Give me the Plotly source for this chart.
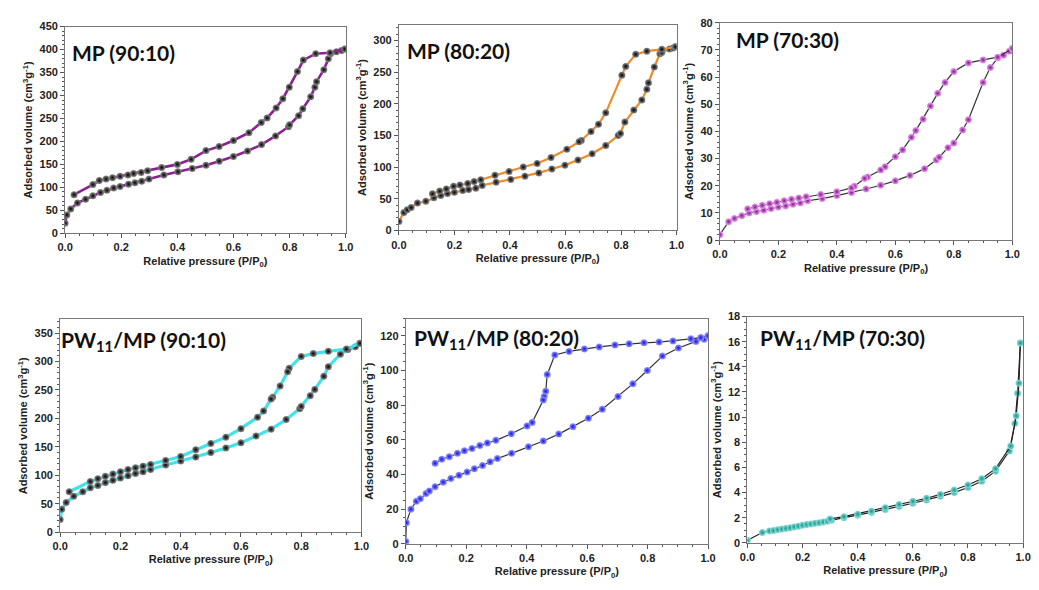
import plotly.graph_objects as go

# ---------------- data ----------------
# MP (90:10)
mp9010_ads_x = [0.0, 0.006, 0.02, 0.044, 0.073, 0.099, 0.126, 0.149, 0.173, 0.196, 0.226, 0.249, 0.273, 0.299,
                0.352, 0.402, 0.453, 0.502, 0.549, 0.6, 0.65, 0.7, 0.75, 0.796, 0.8, 0.832, 0.847, 0.875,
                0.89, 0.896, 0.922, 0.938, 0.946, 0.967, 0.985, 0.997]
mp9010_ads_y = [22, 40, 53, 66, 74, 81.5, 88.6, 93.5, 98.5, 102, 107, 110, 113, 118,
                127, 134, 141, 148, 157, 167, 179, 193, 212, 232, 236, 256, 271, 297,
                318, 330, 356, 380, 391, 395, 398, 401]
mp9010_des_x = [0.997, 0.944, 0.893, 0.849, 0.828, 0.799, 0.776, 0.752, 0.72, 0.699, 0.655, 0.6, 0.549,
                0.502, 0.449, 0.4, 0.344, 0.294, 0.271, 0.244, 0.224, 0.196, 0.169, 0.146, 0.122, 0.099, 0.032]
mp9010_des_y = [401, 393, 391, 377, 352, 318, 293, 273, 251, 241, 219, 202, 189,
                180, 161, 150, 143, 136, 132.5, 130, 127, 124, 121, 118, 115, 106, 84]

# MP (80:20)
mp8020_ads_x = [0.0, 0.018, 0.03, 0.044, 0.067, 0.097, 0.126, 0.151, 0.175, 0.2, 0.23, 0.251, 0.277, 0.3,
                0.35, 0.403, 0.454, 0.504, 0.551, 0.598, 0.645, 0.696, 0.745, 0.79, 0.798, 0.814, 0.846,
                0.875, 0.893, 0.899, 0.92, 0.94, 0.947, 0.975, 0.988, 0.996]
mp8020_ads_y = [14, 28, 32.5, 36, 43, 46, 51.5, 55, 58, 60, 63, 64.4, 66.5, 71,
                76, 80.4, 85.6, 90.7, 97, 103, 111, 121, 134, 150, 153, 171, 190,
                206, 222.7, 233, 258, 279, 281, 286.6, 288, 290]
mp8020_des_x = [0.996, 0.947, 0.893, 0.853, 0.817, 0.803, 0.745, 0.719, 0.692, 0.657, 0.649, 0.605, 0.548,
                0.498, 0.448, 0.397, 0.346, 0.295, 0.271, 0.248, 0.22, 0.197, 0.171, 0.147, 0.121]
mp8020_des_y = [290, 286, 283, 278, 259, 245, 185.6, 167.5, 156, 142, 140, 128, 115,
                105.7, 100, 93, 87, 80, 77, 74, 71.6, 69.6, 65.5, 62, 57.7]

# MP (70:30)
mp7030_ads_x = [0.0, 0.03, 0.05, 0.075, 0.1, 0.125, 0.15, 0.175, 0.2, 0.225, 0.25, 0.275, 0.3, 0.35, 0.4,
                0.45, 0.5, 0.55, 0.6, 0.65, 0.7, 0.74, 0.75, 0.78, 0.8, 0.83, 0.85, 0.9, 0.925, 0.95,
                0.97, 0.99, 1.0]
mp7030_ads_y = [2, 6.8, 8, 9, 10, 10.5, 11, 11.6, 12.2, 12.6, 13.2, 13.7, 14.5, 15.3, 16.4,
                17.5, 18.8, 20.2, 21.8, 23.8, 26.3, 29.5, 30.5, 34, 35.7, 40.5, 44.3, 58, 63.5, 67,
                68, 69.5, 70.5]
mp7030_des_x = [1.0, 0.95, 0.9, 0.85, 0.8, 0.77, 0.745, 0.72, 0.695, 0.67, 0.655, 0.625, 0.6, 0.565, 0.55,
                0.505, 0.495, 0.46, 0.45, 0.4, 0.345, 0.295, 0.27, 0.245, 0.22, 0.195, 0.17, 0.145,
                0.12, 0.095]
mp7030_des_y = [70.5, 67.3, 66.3, 65.2, 62, 58, 54, 49.3, 44.5, 40.3, 37.8, 33.2, 30.7, 27, 25.8,
                23.2, 22.7, 19.8, 19.2, 17.8, 16.8, 16, 15.5, 15, 14.5, 13.9, 13.4, 12.8,
                12.2, 11.5]

# PW11/MP (90:10)
pw9010_ads_x = [0.0, 0.005, 0.02, 0.045, 0.075, 0.1, 0.125, 0.15, 0.175, 0.2, 0.225, 0.25, 0.275, 0.3,
                0.35, 0.4, 0.45, 0.5, 0.55, 0.6, 0.65, 0.7, 0.75, 0.795, 0.8, 0.83, 0.845, 0.875,
                0.89, 0.93, 0.955, 0.98, 0.995]
pw9010_ads_y = [22, 40, 52, 63, 71, 78, 82, 87, 91, 95, 99, 103, 106, 110,
                118, 125, 132, 140, 148, 157, 169, 181, 198, 217, 221, 240, 251, 274,
                291, 313, 321, 326, 332]
pw9010_des_x = [0.995, 0.95, 0.89, 0.84, 0.8, 0.76, 0.755, 0.73, 0.705, 0.7, 0.675, 0.655, 0.6, 0.55,
                0.5, 0.45, 0.4, 0.35, 0.3, 0.275, 0.25, 0.225, 0.2, 0.175, 0.15, 0.125, 0.1, 0.03]
pw9010_des_y = [332, 322, 318, 314, 309, 288, 282, 257, 237, 234, 213, 202, 182, 167,
                156, 145, 133, 126, 119, 116, 113, 110, 106, 102, 98, 94, 89, 71]

# PW11/MP (80:20)
pw8020_ads_x = [0.0, 0.002, 0.017, 0.035, 0.048, 0.067, 0.078, 0.097, 0.124, 0.149, 0.176, 0.203, 0.227,
                0.254, 0.279, 0.303, 0.35, 0.406, 0.455, 0.506, 0.553, 0.604, 0.65, 0.702, 0.751,
                0.799, 0.849, 0.902, 0.96, 0.987, 1.0]
pw8020_ads_y = [1.3, 12.2, 20, 24.5, 26, 29, 30.5, 33, 35.6, 37.7, 39.5, 41.4, 43.3,
                45.2, 47.3, 49.2, 52.2, 56, 59.3, 63.3, 67.6, 72.5, 77.6, 85, 92.3,
                100, 108.3, 113, 116.8, 118, 120]
pw8020_des_x = [1.0, 0.976, 0.943, 0.884, 0.838, 0.788, 0.739, 0.692, 0.64, 0.591, 0.54, 0.493, 0.468,
                0.463, 0.458, 0.455, 0.418, 0.401, 0.349, 0.298, 0.27, 0.245, 0.219, 0.194, 0.171,
                0.144, 0.119, 0.097]
pw8020_des_y = [120, 119, 118.3, 117, 116.4, 116, 115.4, 114.7, 113.6, 112.4, 111, 109, 97.7,
                88, 85, 83, 70, 68, 63.5, 59.7, 58.2, 56.7, 55, 53.7, 52.2,
                50.3, 48.8, 46.5]

# PW11/MP (70:30)
pw7030_ads_x = [0.0, 0.054, 0.08, 0.095, 0.11, 0.125, 0.14, 0.155, 0.17, 0.185, 0.2, 0.215, 0.23, 0.245,
                0.26, 0.275, 0.29, 0.305, 0.35, 0.4, 0.45, 0.5, 0.55, 0.6, 0.65, 0.7, 0.75, 0.8,
                0.85, 0.9, 0.95, 0.97, 0.98, 0.99]
pw7030_ads_y = [0.2, 0.82, 0.95, 0.98, 1.05, 1.1, 1.15, 1.2, 1.27, 1.33, 1.4, 1.45, 1.5, 1.55,
                1.6, 1.66, 1.72, 1.8, 2.0, 2.2, 2.42, 2.65, 2.9, 3.15, 3.4, 3.7, 4.0, 4.4,
                4.9, 5.7, 7.3, 9.5, 11.9, 15.9]
pw7030_des_x = [0.99, 0.985, 0.975, 0.955, 0.9, 0.85, 0.8, 0.75, 0.7, 0.65, 0.6, 0.55, 0.5, 0.45,
                0.4, 0.35, 0.3]
pw7030_des_y = [15.9, 12.7, 10.1, 7.7, 5.9, 5.1, 4.6, 4.2, 3.85, 3.55, 3.3, 3.05, 2.8, 2.52,
                2.28, 2.08, 1.9]

panel_titles = ["MP (90:10)", "MP (80:20)", "MP (70:30)",
                "PW<sub>11</sub>/MP (90:10)", "PW<sub>11</sub>/MP (80:20)", "PW<sub>11</sub>/MP (70:30)"]
x_title = "Relative pressure (P/P<sub>0</sub>)"
y_title = "Adsorbed volume (cm<sup>3</sup>g<sup>-1</sup>)"

# ---------------- styling / layout ----------------
W, H = 1039, 590
# (left, right, top, bottom) in pixels
boxes = [(58, 343, 21, 232), (397, 679, 19, 229), (723, 1020, 17, 239),
         (53, 359, 320, 537), (404, 711, 319, 549), (751, 1031, 317, 548)]
yranges = [(0, 450), (0, 325), (0, 80), (0, 374), (0, 130), (0, 18)]
ydticks = [50, 50, 10, 50, 20, 2]
line_colors = ["#8E1F96", "#F08A24", "#333333", "#3EE3EC", "#333333", "#222222"]
line_widths = [2.6, 2.2, 1.2, 3.2, 1.2, 1.2]
marker_centers = ["#8C8C8C", "#8C8C8C", "#E7A6EC", "#8C8C8C", "#9A9CFF", "#8FE0DA"]
marker_edges = ["#000000", "#000000", "#8A1197", "#000000", "#1010E0", "#12918A"]
title_pos = [(63, 47), (403, 45), (737, 34), (52, 342), (410, 340), (762, 340)]

series = [
    (mp9010_ads_x, mp9010_ads_y, mp9010_des_x, mp9010_des_y),
    (mp8020_ads_x, mp8020_ads_y, mp8020_des_x, mp8020_des_y),
    (mp7030_ads_x, mp7030_ads_y, mp7030_des_x, mp7030_des_y),
    (pw9010_ads_x, pw9010_ads_y, pw9010_des_x, pw9010_des_y),
    (pw8020_ads_x, pw8020_ads_y, pw8020_des_x, pw8020_des_y),
    (pw7030_ads_x, pw7030_ads_y, pw7030_des_x, pw7030_des_y),
]

fig = go.Figure()
tick_font = dict(family="Liberation Sans, Arial", size=11, color="#222222")
title_font = dict(family="Liberation Sans, Arial", size=11, color="#222222")

for i, (ax_, ay_, dx_, dy_) in enumerate(series):
    n = i + 1
    xa = "x" if n == 1 else f"x{n}"
    ya = "y" if n == 1 else f"y{n}"
    for xs, ys in ((ax_, ay_), (dx_, dy_)):
        fig.add_trace(go.Scatter(
            x=xs, y=ys, xaxis=xa, yaxis=ya, mode="lines+markers",
            line=dict(color=line_colors[i], width=line_widths[i]),
            marker=dict(size=7, color=marker_centers[i],
                        gradient=dict(type="radial", color=marker_edges[i]),
                        line=dict(width=0)),
            showlegend=False, hoverinfo="skip"))
    l, r, t, b = boxes[i]
    common = dict(showline=True, mirror=True, linecolor="#777777", linewidth=1,
                  ticks="outside", ticklen=4, tickwidth=1, tickcolor="#555555",
                  showgrid=False, zeroline=False, tickfont=tick_font,
                  minor=dict(ticks="outside", ticklen=2, tickcolor="#555555", showgrid=False))
    fig.layout[("xaxis" if n == 1 else f"xaxis{n}")] = dict(
        domain=[l / W, r / W], anchor=ya, range=[0, 1.0], dtick=0.2, tickformat=".1f",
        title=dict(text="<b>" + x_title + "</b>", font=title_font, standoff=4), **common)
    fig.layout[("yaxis" if n == 1 else f"yaxis{n}")] = dict(
        domain=[1 - b / H, 1 - t / H], anchor=xa, range=list(yranges[i]), dtick=ydticks[i],
        title=dict(text="<b>" + y_title + "</b>", font=title_font, standoff=4), **common)
    tx, ty = title_pos[i]
    fig.add_annotation(x=tx / W, y=1 - ty / H, xref="paper", yref="paper",
                       xanchor="left", yanchor="middle", showarrow=False,
                       text="<b>" + panel_titles[i] + "</b>",
                       font=dict(family="Lato, Open Sans", size=21, color="#111111", weight=900))

fig.update_layout(width=W, height=H, margin=dict(l=0, r=0, t=0, b=0),
                  paper_bgcolor="white", plot_bgcolor="white")
# bold tick labels
fig.update_xaxes(tickprefix="<b>", ticksuffix="</b>")
fig.update_yaxes(tickprefix="<b>", ticksuffix="</b>")

fig.write_html("out.html")
